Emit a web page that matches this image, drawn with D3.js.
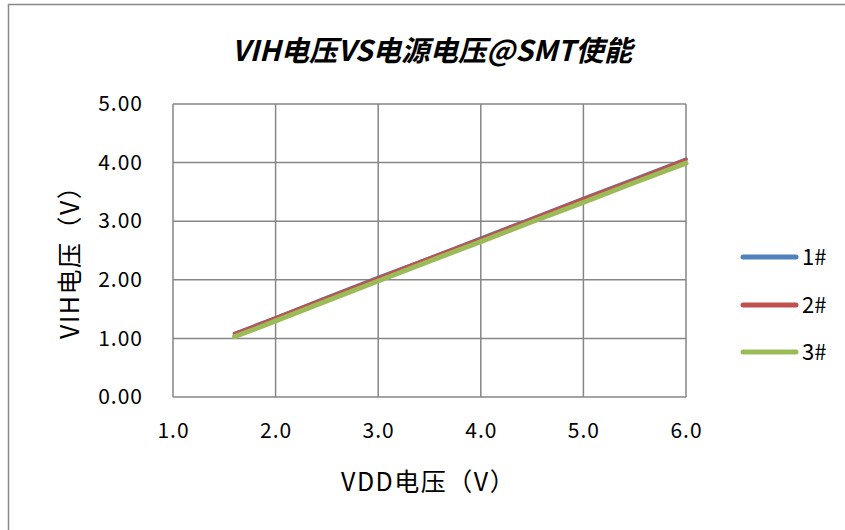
<!DOCTYPE html>
<html><head><meta charset="utf-8">
<script src="https://cdn.jsdelivr.net/npm/d3@7"></script>
<style>html,body{margin:0;padding:0;background:#fff;}svg{display:block;}</style>
</head><body>
<svg id="c" width="845" height="530"></svg>
<script>
const vdd = [1.6, 1.8, 2.0, 2.5, 3.0, 3.5, 4.0, 4.5, 5.0, 5.5, 6.0];
const s1 = [1.08, 1.22, 1.35, 1.70, 2.04, 2.37, 2.71, 3.05, 3.39, 3.72, 4.06];
const s2 = [1.08, 1.21, 1.35, 1.69, 2.03, 2.37, 2.70, 3.04, 3.38, 3.71, 4.05];
const s3 = [1.03, 1.16, 1.30, 1.64, 1.98, 2.32, 2.65, 2.99, 3.32, 3.66, 3.99];
const seriesNames = ["1#", "2#", "3#"];
const seriesColors = ["#4F81BD", "#C0504D", "#9BBB59"];
const seriesWidths = [3.5, 3.5, 5];
const xTicks = [1.0, 2.0, 3.0, 4.0, 5.0, 6.0];
const yTicks = [0, 1, 2, 3, 4, 5];
const title = "VIH电压VS电源电压@SMT使能";
const xTitle = "VDD电压（V）";
const yTitle = "VIH电压（V）";

const svg = d3.select("#c");
const font = "'Noto Sans CJK SC', 'Noto Sans', sans-serif";
const L = 173, R = 686, T = 104, B = 397;
const x = d3.scaleLinear().domain([1, 6]).range([L, R]);
const y = d3.scaleLinear().domain([0, 5]).range([B, T]);

// outer frame
svg.append("rect").attr("x", 8.5).attr("y", 4.5).attr("width", 900).attr("height", 600)
  .attr("fill", "none").attr("stroke", "#898989").attr("stroke-width", 1.5);

// title
svg.append("text").attr("x", 432).attr("y", 61).attr("text-anchor", "middle")
  .attr("font-family", font).attr("font-weight", "bold").attr("font-style", "italic")
  .attr("font-size", 28.5).attr("fill", "#000").text(title);

// gridlines
const grid = svg.append("g");
grid.selectAll("line.v").data(xTicks).join("line")
  .attr("x1", d => x(d)).attr("x2", d => x(d)).attr("y1", T).attr("y2", B)
  .attr("stroke", "#868686").attr("stroke-width", 1.5);
grid.selectAll("line.h").data(yTicks).join("line")
  .attr("x1", L).attr("x2", R).attr("y1", d => y(d)).attr("y2", d => y(d))
  .attr("stroke", "#868686").attr("stroke-width", 1.5);

// axes
const xAxis = d3.axisBottom(x).tickValues(xTicks).tickFormat(d3.format(".1f")).tickSize(0).tickPadding(26);
const gx = svg.append("g").attr("transform", `translate(0,${B})`).call(xAxis);
const yAxis = d3.axisLeft(y).tickValues(yTicks).tickFormat(d3.format(".2f")).tickSize(0).tickPadding(30);
const gy = svg.append("g").attr("transform", `translate(${L},0)`).call(yAxis);
[gx, gy].forEach(g => {
  g.select(".domain").remove();
  g.selectAll("text").attr("font-family", font).attr("font-size", 21)
    .attr("letter-spacing", 1).attr("fill", "#000");
});

// axis titles
svg.append("text").attr("x", 341).attr("y", 491).attr("text-anchor", "start")
  .attr("font-family", font).attr("font-size", 25).attr("letter-spacing", 1.5)
  .attr("fill", "#000").text(xTitle);
svg.append("text").attr("transform", "translate(79,339) rotate(-90)").attr("text-anchor", "start")
  .attr("font-family", font).attr("font-size", 25).attr("letter-spacing", 1.5)
  .attr("fill", "#000").text(yTitle);

// lines
const data = [s1, s2, s3];
const line = d3.line().x((d, i) => x(vdd[i])).y(d => y(d));
data.forEach((s, k) => {
  svg.append("path").datum(s).attr("d", line).attr("fill", "none")
    .attr("stroke", seriesColors[k]).attr("stroke-width", seriesWidths[k])
    .attr("stroke-linecap", "round").attr("stroke-linejoin", "round");
});

// legend
const legY = [257, 305, 352];
const lg = svg.append("g");
seriesNames.forEach((n, k) => {
  lg.append("line").attr("x1", 743).attr("x2", 796).attr("y1", legY[k]).attr("y2", legY[k])
    .attr("stroke", seriesColors[k]).attr("stroke-width", 5).attr("stroke-linecap", "round");
  lg.append("text").attr("x", 802).attr("y", legY[k] + 8).attr("font-family", font)
    .attr("font-size", 22).attr("fill", "#000").text(n);
});
</script>
</body></html>
